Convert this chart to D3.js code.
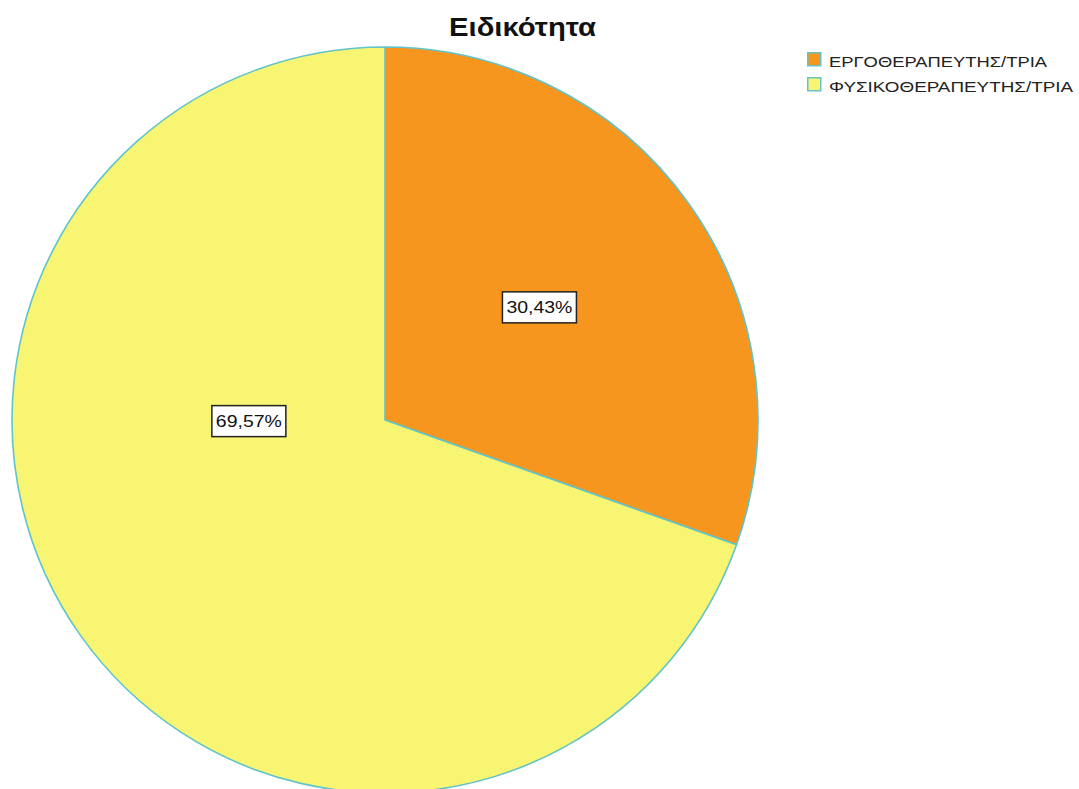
<!DOCTYPE html>
<html>
<head>
<meta charset="utf-8">
<script src="https://cdn.jsdelivr.net/npm/d3@7/dist/d3.min.js"></script>
<style>
  html, body { margin: 0; padding: 0; background: #ffffff; }
  svg { display: block; }
</style>
</head>
<body>
<svg id="chart" width="1079" height="789"></svg>
<script>
// Specialty breakdown (percent of respondents)
const categories = ["ΕΡΓΟΘΕΡΑΠΕΥΤΗΣ/ΤΡΙΑ", "ΦΥΣΙΚΟΘΕΡΑΠΕΥΤΗΣ/ΤΡΙΑ"];
const values = [30.43, 69.57];
const valueLabels = ["30,43%", "69,57%"];
const titleText = "Ειδικότητα";

const W = 1079, H = 789;
const cx = 385, cy = 420, R = 373;
const fills = ["#f7961e", "#f8f573"];
const edge = "#62c3c9";

// label placement, expressed as fractions of the radius from the centre
const labelPos = [[0.414, -0.302], [-0.365, 0.003]];

const svg = d3.select("#chart");

const color = d3.scaleOrdinal().domain(categories).range(fills);

const pie = d3.pie().sort(null).value(d => d.value).startAngle(0).endAngle(2 * Math.PI);
const arcs = pie(categories.map((c, i) => ({ name: c, value: values[i], label: valueLabels[i] })));
const arc = d3.arc().innerRadius(0).outerRadius(R);

const g = svg.append("g").attr("transform", `translate(${cx},${cy})`);

g.selectAll("path.slice")
  .data(arcs)
  .join("path")
  .attr("class", "slice")
  .attr("d", arc)
  .attr("fill", d => color(d.data.name))
  .attr("stroke", edge)
  .attr("stroke-width", 1.6)
  .attr("stroke-linejoin", "round");

// value labels in white boxes
const lab = g.selectAll("g.lab")
  .data(arcs)
  .join("g")
  .attr("class", "lab")
  .attr("transform", (d, i) => `translate(${labelPos[i][0] * R},${labelPos[i][1] * R})`);

lab.append("rect")
  .attr("x", -37)
  .attr("y", -15.5)
  .attr("width", 74)
  .attr("height", 31)
  .attr("fill", "#ffffff")
  .attr("stroke", "#222")
  .attr("stroke-width", 1.5);

lab.append("text")
  .attr("text-anchor", "middle")
  .attr("dy", "0.36em")
  .attr("font-family", "Liberation Sans, Arial, sans-serif")
  .attr("font-size", 17)
  .attr("fill", "#111")
  .attr("textLength", 66)
  .attr("lengthAdjust", "spacingAndGlyphs")
  .text(d => d.data.label);

// title
svg.append("text")
  .attr("x", 449)
  .attr("y", 36)
  .attr("font-family", "Liberation Sans, Arial, sans-serif")
  .attr("font-weight", "bold")
  .attr("font-size", 25)
  .attr("fill", "#111")
  .attr("textLength", 147)
  .attr("lengthAdjust", "spacingAndGlyphs")
  .text(titleText);

// legend
const legendWidths = [218, 244];
const leg = svg.append("g").attr("transform", "translate(807,52)");
const rows = leg.selectAll("g.row")
  .data(categories)
  .join("g")
  .attr("class", "row")
  .attr("transform", (d, i) => `translate(0,${i * 25})`);

rows.append("rect")
  .attr("x", 0.75).attr("y", 0.75)
  .attr("width", 13).attr("height", 13)
  .attr("fill", d => color(d))
  .attr("stroke", edge)
  .attr("stroke-width", 1.5);

rows.append("text")
  .attr("x", 22)
  .attr("y", 14.5)
  .attr("font-family", "Liberation Sans, Arial, sans-serif")
  .attr("font-size", 15)
  .attr("fill", "#222")
  .attr("textLength", (d, i) => legendWidths[i])
  .attr("lengthAdjust", "spacingAndGlyphs")
  .text(d => d);
</script>
</body>
</html>
